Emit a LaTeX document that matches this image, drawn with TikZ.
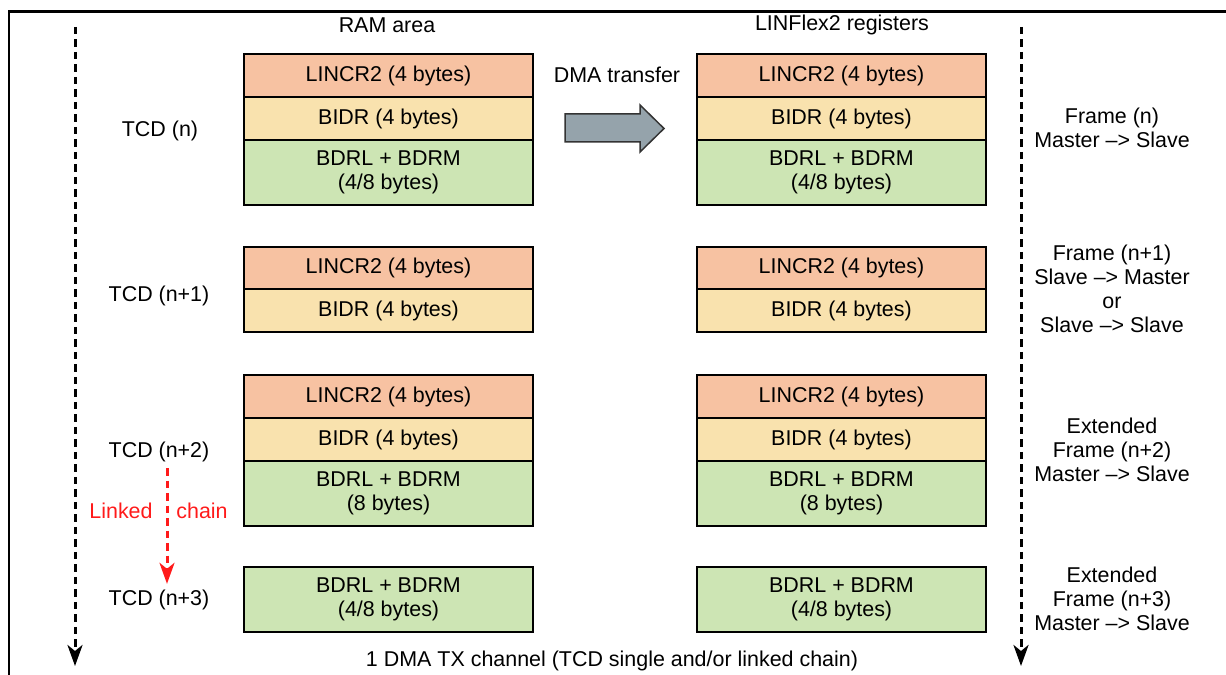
\documentclass[tikz,border=0pt]{standalone}
\usepackage{fontspec}
\setmainfont{Liberation Sans}
\usetikzlibrary{positioning,arrows.meta}
\definecolor{lincrfill}{HTML}{F7C2A2}
\definecolor{bidrfill}{HTML}{F9E2AE}
\definecolor{bdrlfill}{HTML}{CDE5B4}
\definecolor{dmagray}{HTML}{95A3AB}
\definecolor{chainred}{HTML}{FF1A1A}

\begin{document}
\begin{tikzpicture}[x=0.02cm, y=-0.02cm, node distance=0pt, font=\fontsize{12.2}{13.6}\selectfont]
  \tikzstyle{reg} = [rectangle, draw, line width=0.04cm, align=center, inner sep=0pt, outer sep=0pt, minimum width=5.78cm]
  \tikzstyle{lincr} = [reg, fill=lincrfill, minimum height=0.86cm]
  \tikzstyle{bidr} = [reg, fill=bidrfill, minimum height=0.86cm]
  \tikzstyle{bdrl} = [reg, fill=bdrlfill, minimum height=1.3cm]
  \tikzstyle{note} = [align=center]
  \tikzstyle{timeline} = [line width=0.06cm, dash pattern=on 0.15cm off 0.1cm, -{Stealth[length=0.42cm, width=0.3cm, inset=0.12cm]}]
  \tikzstyle{chainarrow} = [timeline, chainred]

  \useasboundingbox (0,0) rectangle (1226,675);
  \clip (0,0) rectangle (1226,675);

  % Outer frame
  \draw [line width=0.06cm] (9,12) rectangle (1250,700);

  % Column titles
  \node (ramtitle) at (387,25) {RAM area};
  \node (regtitle) at (842,25) {LINFlex2 registers};

  % TCD (n)
  \node [lincr] (ram1a) at (388.5,75.5) {LINCR2 (4 bytes)};
  \node [bidr, below=of ram1a] (ram1b) {BIDR (4 bytes)};
  \node [bdrl, below=of ram1b] (ram1c) {BDRL + BDRM\\(4/8 bytes)};
  \node [lincr] (reg1a) at (841.5,75.5) {LINCR2 (4 bytes)};
  \node [bidr, below=of reg1a] (reg1b) {BIDR (4 bytes)};
  \node [bdrl, below=of reg1b] (reg1c) {BDRL + BDRM\\(4/8 bytes)};

  % TCD (n+1)
  \node [lincr] (ram2a) at (388.5,268) {LINCR2 (4 bytes)};
  \node [bidr, below=of ram2a] (ram2b) {BIDR (4 bytes)};
  \node [lincr] (reg2a) at (841.5,268) {LINCR2 (4 bytes)};
  \node [bidr, below=of reg2a] (reg2b) {BIDR (4 bytes)};

  % TCD (n+2)
  \node [lincr] (ram3a) at (388.5,396.5) {LINCR2 (4 bytes)};
  \node [bidr, below=of ram3a] (ram3b) {BIDR (4 bytes)};
  \node [bdrl, below=of ram3b] (ram3c) {BDRL + BDRM\\(8 bytes)};
  \node [lincr] (reg3a) at (841.5,396.5) {LINCR2 (4 bytes)};
  \node [bidr, below=of reg3a] (reg3b) {BIDR (4 bytes)};
  \node [bdrl, below=of reg3b] (reg3c) {BDRL + BDRM\\(8 bytes)};

  % TCD (n+3)
  \node [bdrl] (ram4c) at (388.5,599.5) {BDRL + BDRM\\(4/8 bytes)};
  \node [bdrl] (reg4c) at (841.5,599.5) {BDRL + BDRM\\(4/8 bytes)};

  % TCD labels
  \node (tcd0) at (160,131) {TCD (n)};
  \node (tcd1) at (159,296) {TCD (n+1)};
  \node (tcd2) at (159,452) {TCD (n+2)};
  \node (tcd3) at (159,600) {TCD (n+3)};

  % Frame labels
  \node [note] (frame0) at (1112,128) {Frame (n)\\Master –> Slave};
  \node [note] (frame1) at (1112,289) {Frame (n+1)\\Slave –> Master\\or\\Slave –> Slave};
  \node [note] (frame2) at (1112,450) {Extended\\Frame (n+2)\\Master –> Slave};
  \node [note] (frame3) at (1112,599) {Extended\\Frame (n+3)\\Master –> Slave};

  % DMA transfer
  \node (dmatext) at (617,75) {DMA transfer};
  \draw [fill=dmagray, draw=black!80, line width=0.03cm]
    (565,114) -- (640,114) -- (640,105) -- (664,128.5) -- (640,152) -- (640,142) -- (565,142) -- cycle;

  % Linked chain
  \node [text=chainred] (linked) at (121,511) {Linked};
  \node [text=chainred] (chain) at (202,511) {chain};
  \draw [chainarrow] ([xshift=0.16cm]tcd2.south) -- ([xshift=0.16cm]tcd3.north);

  % Time lines
  \coordinate (ltop) at (75,27);
  \coordinate (lbot) at (75,666);
  \coordinate (rtop) at (1021,27);
  \coordinate (rbot) at (1021,666);
  \draw [timeline] (ltop) -- (lbot);
  \draw [timeline] (rtop) -- (rbot);

  \node (channel) at (612,661) {1 DMA TX channel (TCD single and/or linked chain)};

\end{tikzpicture}
\end{document}
